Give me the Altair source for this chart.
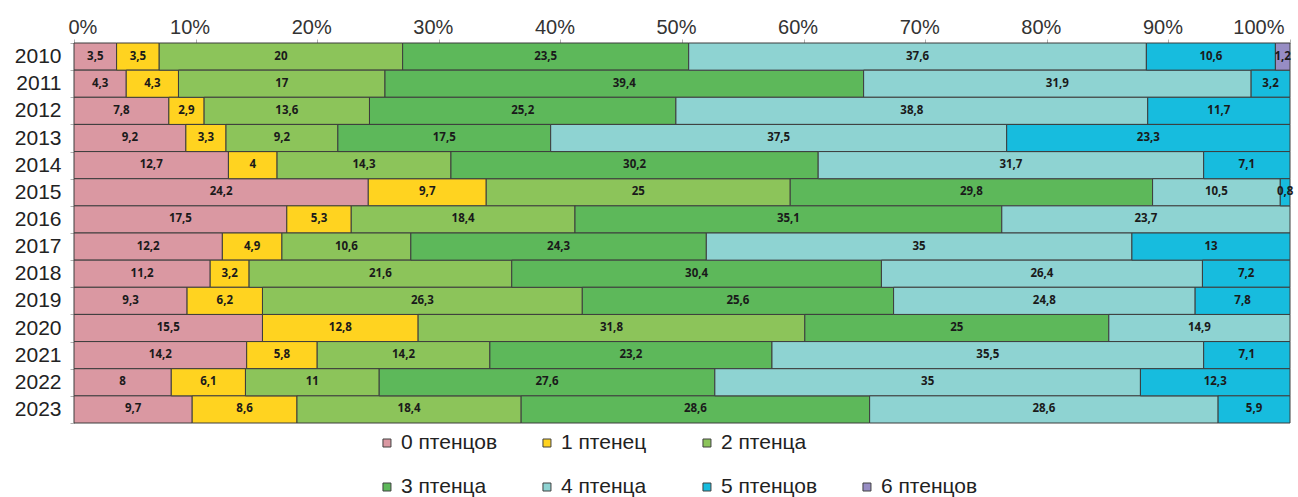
import altair as alt
import pandas as pd

# Nest-size shares (% of broods) by year
years = [str(y) for y in range(2010, 2024)]
categories = ["0 птенцов", "1 птенец", "2 птенца", "3 птенца",
              "4 птенца", "5 птенцов", "6 птенцов"]

chicks_0 = [3.5, 4.3, 7.8, 9.2, 12.7, 24.2, 17.5, 12.2, 11.2, 9.3, 15.5, 14.2, 8, 9.7]
chicks_1 = [3.5, 4.3, 2.9, 3.3, 4, 9.7, 5.3, 4.9, 3.2, 6.2, 12.8, 5.8, 6.1, 8.6]
chicks_2 = [20, 17, 13.6, 9.2, 14.3, 25, 18.4, 10.6, 21.6, 26.3, 31.8, 14.2, 11, 18.4]
chicks_3 = [23.5, 39.4, 25.2, 17.5, 30.2, 29.8, 35.1, 24.3, 30.4, 25.6, 25, 23.2, 27.6, 28.6]
chicks_4 = [37.6, 31.9, 38.8, 37.5, 31.7, 10.5, 23.7, 35, 26.4, 24.8, 14.9, 35.5, 35, 28.6]
chicks_5 = [10.6, 3.2, 11.7, 23.3, 7.1, 0.8, 0, 13, 7.2, 7.8, 0, 7.1, 12.3, 5.9]
chicks_6 = [1.2, 0, 0, 0, 0, 0, 0, 0, 0, 0, 0, 0, 0, 0]
series = [chicks_0, chicks_1, chicks_2, chicks_3, chicks_4, chicks_5, chicks_6]

colors = ["#DA98A2", "#FFD320", "#8CC45A", "#5DB85A", "#8ED3D2", "#17BCDE", "#978DC4"]

# Legend grid: Excel-style wrapping, 3 items on the first row, 4 on the second
legend_col = [0, 1, 2, 0, 1, 2, 3]
legend_row = [0, 0, 0, 1, 1, 1, 1]

rows = []
for k, (cat, vals) in enumerate(zip(categories, series)):
    for year, v in zip(years, vals):
        if v > 0:
            rows.append({"year": year, "cat": cat, "k": k, "value": v})
df = pd.DataFrame(rows)

legend_df = pd.DataFrame({"cat": categories, "col": legend_col, "row": legend_row})

FONT = "Liberation Sans"
PLOT_W = 1216
PLOT_H = 380

color_scale = alt.Scale(domain=categories, range=colors)

base = alt.Chart(df).transform_stack(
    stack="value",
    groupby=["year"],
    as_=["x0", "x1"],
    offset="normalize",
    sort=[alt.SortField("k", order="ascending")],
).transform_calculate(
    mid="(datum.x0 + datum.x1) / 2",
    label="replace(toString(datum.value), '.', ',')",
)

y_enc = alt.Y(
    "year:N",
    sort=years,
    scale=alt.Scale(paddingInner=0, paddingOuter=0),
    axis=alt.Axis(
        title=None, labelFont=FONT, labelFontSize=21, labelColor="#222222",
        labelPadding=9, tickSize=4, tickBand="extent",
        domainColor="#b0b0b0", tickColor="#b0b0b0",
    ),
)

bars = base.mark_bar(stroke="#3c3c3c", strokeWidth=1).encode(
    x=alt.X(
        "x0:Q",
        scale=alt.Scale(domain=[0, 1], nice=False),
        axis=alt.Axis(
            orient="top", title=None, format=".0%",
            values=[i / 10 for i in range(11)],
            labelFont=FONT, labelFontSize=20, labelColor="#333333",
            labelPadding=2, labelOffset=-6, labelFlush=True,
            tickSize=4, grid=False,
            domainColor="#c8c8c8", tickColor="#b0b0b0",
        ),
    ),
    x2="x1:Q",
    y=y_enc,
    color=alt.Color("cat:N", scale=color_scale, legend=None),
)

labels = base.mark_text(
    font="Open Sans", fontSize=11.5, fontWeight="bold", color="#1a1a1a"
).encode(
    x="mid:Q",
    y=y_enc,
    text="label:N",
)

main = alt.layer(bars, labels).properties(width=PLOT_W, height=PLOT_H)

# Legend drawn as its own small panel below the bars
leg_x = alt.X("col:Q", scale=alt.Scale(domain=[-1.956, 5.644], nice=False, zero=False), axis=None)
leg_y = alt.Y("row:Q", scale=alt.Scale(domain=[-0.4545, 1.227], nice=False, zero=False, reverse=True), axis=None)

leg_marks = alt.Chart(legend_df).mark_square(
    size=64, stroke="#404040", strokeWidth=1, opacity=1
).encode(
    x=leg_x, y=leg_y,
    color=alt.Color("cat:N", scale=color_scale, legend=None),
)
leg_text = alt.Chart(legend_df).mark_text(
    align="left", baseline="middle", dx=14, font=FONT, fontSize=21, color="#222222"
).encode(
    x=leg_x, y=leg_y, text="cat:N",
)
legend_panel = alt.layer(leg_marks, leg_text).properties(width=PLOT_W, height=74)

chart = alt.vconcat(main, legend_panel, spacing=0, bounds="flush").properties(
    padding={"left": 14, "top": 17, "right": 0, "bottom": 0},
    background="white",
).configure_view(stroke=None)

chart.save("out.html", embed_options={"renderer": "svg", "actions": False})
